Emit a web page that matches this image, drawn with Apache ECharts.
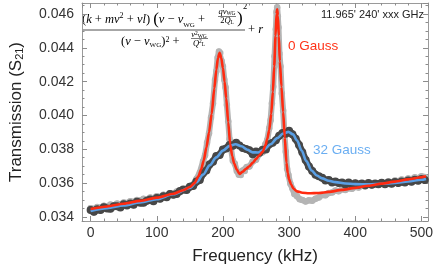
<!DOCTYPE html>
<html><head><meta charset="utf-8">
<script src="https://cdn.jsdelivr.net/npm/echarts@6/dist/echarts.min.js"></script>
<style>html,body{margin:0;padding:0;background:#fff}#c{width:436px;height:273px}</style>
</head><body><div id="c"></div>
<script>
// ---- tick labels ----
const xTickLabels = ['0', '100', '200', '300', '400', '500'];
const yTickLabels = ['0.034', '0.036', '0.038', '0.040', '0.042', '0.044', '0.046'];

// ---- 0 Gauss measured data (light gray) ----
const lightFreq = [0,5,10,15,20,25,30,35,40,45,50,55,60,65,70,75,80,85,90,95,100,105,110,115,120,125,130,135,140,145,150,155,160,165,170,173,176,179,182,185,188,190,192,194,196,198,200,202,204,206,208,210,212,215,218,221,224,227,230,233,236,240,245,250,255,260,264,267,270,272,274,276,278,280,281,282,283,284,285.5,287,289,291,293,295,297,299,302,305,308,312,316,320,325,330,335,340,345,350,355,360,365,370,375,380,385,390,395,400,405,410,415,420,425,430,435,440,445,450,455,460,465,470,475,480,485,490,495,500,505];
const lightVal = [0.03452,0.03447,0.03459,0.03454,0.03466,0.03461,0.03473,0.03468,0.03479,0.03475,0.03486,0.03482,0.03493,0.03489,0.03500,0.03497,0.03507,0.03503,0.03515,0.03511,0.03523,0.03518,0.03531,0.03527,0.03539,0.03535,0.03550,0.03546,0.03564,0.03566,0.03583,0.03592,0.03625,0.03662,0.03728,0.03765,0.03838,0.03895,0.03988,0.04072,0.04210,0.04262,0.04342,0.04378,0.04370,0.04322,0.04290,0.04212,0.04165,0.04062,0.03966,0.03860,0.03810,0.03732,0.03715,0.03672,0.03650,0.03648,0.03675,0.03672,0.03695,0.03698,0.03728,0.03738,0.03772,0.03782,0.03828,0.03855,0.03925,0.03972,0.04072,0.04170,0.04350,0.04510,0.04612,0.04640,0.04585,0.04520,0.04365,0.04290,0.04130,0.04030,0.03890,0.03785,0.03685,0.03648,0.03596,0.03568,0.03535,0.03522,0.03505,0.03500,0.03492,0.03498,0.03496,0.03508,0.03515,0.03530,0.03528,0.03541,0.03545,0.03556,0.03552,0.03563,0.03560,0.03570,0.03566,0.03578,0.03574,0.03585,0.03580,0.03591,0.03587,0.03598,0.03593,0.03604,0.03599,0.03610,0.03605,0.03616,0.03611,0.03622,0.03617,0.03628,0.03623,0.03634,0.03629,0.03640,0.03636];

// ---- 32 Gauss measured data (dark gray) ----
const darkFreq = [0,5,10,15,20,25,30,35,40,45,50,55,60,65,70,75,80,85,90,95,100,105,110,115,120,125,130,135,140,145,150,155,160,165,170,175,180,185,190,195,200,205,210,215,220,225,230,235,240,245,250,255,260,265,270,275,280,285,290,295,300,305,310,315,320,325,330,335,340,345,350,355,360,365,370,375,380,385,390,395,400,405,410,415,420,425,430,435,440,445,450,455,460,465,470,475,480,485,490,495,500,505];
const darkVal = [0.03441,0.03430,0.03445,0.03441,0.03457,0.03450,0.03448,0.03463,0.03463,0.03456,0.03475,0.03468,0.03479,0.03472,0.03490,0.03484,0.03484,0.03495,0.03503,0.03493,0.03512,0.03507,0.03522,0.03516,0.03535,0.03531,0.03536,0.03553,0.03562,0.03560,0.03579,0.03583,0.03609,0.03618,0.03658,0.03674,0.03711,0.03727,0.03760,0.03766,0.03799,0.03804,0.03826,0.03821,0.03838,0.03822,0.03807,0.03802,0.03795,0.03771,0.03787,0.03780,0.03798,0.03799,0.03830,0.03839,0.03854,0.03880,0.03896,0.03892,0.03909,0.03889,0.03862,0.03826,0.03782,0.03736,0.03698,0.03672,0.03650,0.03640,0.03632,0.03615,0.03618,0.03604,0.03610,0.03600,0.03604,0.03592,0.03603,0.03589,0.03599,0.03591,0.03598,0.03588,0.03600,0.03590,0.03598,0.03593,0.03602,0.03594,0.03603,0.03596,0.03607,0.03600,0.03609,0.03603,0.03615,0.03608,0.03620,0.03614,0.03624,0.03619];

// ---- 0 Gauss fit (red) ----
const redFreq = [0,25,50,75,100,125,140,150,157,163,167,171,175,179,183,187,190,192.5,195,197.5,200,202.5,205,208,211,214,217,221,225,230,235,240,245,250,255,260,264,267,270,273,275.5,277.5,279.5,281,282,283,284.5,286,288.5,291,293.5,296,298,300,303,307,312,320,330,345,360,380,400,420,440,460,480,500,507];
const redVal = [0.03447,0.03462,0.03478,0.03495,0.03514,0.03537,0.03558,0.03577,0.03600,0.03640,0.03680,0.03735,0.03810,0.03900,0.04010,0.04160,0.04270,0.04340,0.04371,0.04340,0.04280,0.04200,0.04100,0.03960,0.03830,0.03760,0.03715,0.03680,0.03654,0.03668,0.03685,0.03700,0.03720,0.03742,0.03765,0.03785,0.03820,0.03860,0.03914,0.04010,0.04140,0.04290,0.04470,0.04600,0.04628,0.04590,0.04470,0.04320,0.04170,0.04020,0.03870,0.03720,0.03660,0.03622,0.03592,0.03566,0.03551,0.03543,0.03540,0.03542,0.03548,0.03560,0.03572,0.03584,0.03597,0.03609,0.03622,0.03635,0.03640];

// ---- 32 Gauss fit (blue) ----
const blueFreq = [0,25,50,75,100,125,150,160,170,180,190,200,210,219,228,237,245,253,262,272,282,291,299,306,312,319,326,334,342,350,360,370,385,400,420,440,460,480,500,507];
const blueVal = [0.03435,0.03452,0.03468,0.03486,0.03505,0.03534,0.03572,0.03605,0.03650,0.03705,0.03752,0.03792,0.03820,0.03830,0.03818,0.03797,0.03782,0.03781,0.03798,0.03830,0.03866,0.03893,0.03903,0.03888,0.03852,0.03792,0.03730,0.03675,0.03645,0.03628,0.03614,0.03606,0.03598,0.03594,0.03593,0.03596,0.03601,0.03610,0.03620,0.03625];

const X_MIN = -13, X_MAX = 510, Y_MIN = 0.03376, Y_MAX = 0.04665;
const pairs = (f, v) => f.map((x, i) => [x, v[i]]);

const LINE_C = '#9a9a9a', TICK_C = '#8c8c8c', LABEL_C = '#333';
const SANS = '"Liberation Sans", Arial, Helvetica, sans-serif';
const SERIF = '"Liberation Serif", "Times New Roman", serif';

function mkAxis(dim, pos, major, withLine, extra) {
  const isX = dim === 'x';
  return Object.assign({
    type: 'value', position: pos,
    min: isX ? X_MIN : Y_MIN, max: isX ? X_MAX : Y_MAX,
    splitNumber: major ? (isX ? 5 : 6) : 26,
    axisLine: { show: withLine, onZero: false, lineStyle: { color: LINE_C, width: 1 } },
    axisTick: { show: true, inside: true, length: major ? 5 : 2.5, lineStyle: { color: TICK_C, width: 1 } },
    axisLabel: { show: false },
    splitLine: { show: false }
  }, extra || {});
}

const chart = echarts.init(document.getElementById('c'), null, { renderer: 'canvas' });

const rich = {
  i: { fontFamily: SERIF, fontStyle: 'italic', fontSize: 12.5, color: '#222' },
  p: { fontFamily: SERIF, fontSize: 12.5, color: '#222' },
  bp: { fontFamily: SERIF, fontSize: 17, color: '#222' },
  sup: { fontFamily: SERIF, fontSize: 8, color: '#222', verticalAlign: 'top', lineHeight: 8 },
  sub: { fontFamily: SERIF, fontSize: 7, color: '#222', verticalAlign: 'bottom', lineHeight: 7 },
  si: { fontFamily: SERIF, fontStyle: 'italic', fontSize: 8.5, color: '#222' },
  sp: { fontFamily: SERIF, fontSize: 8.5, color: '#222' },
  ssub: { fontFamily: SERIF, fontSize: 5.5, color: '#222', verticalAlign: 'bottom', lineHeight: 6 },
  ssup: { fontFamily: SERIF, fontSize: 5.5, color: '#222', verticalAlign: 'top', lineHeight: 6 }
};

chart.setOption({
  animation: false,
  backgroundColor: '#fff',
  grid: { left: 77, right: 7, top: 3, bottom: 52, containLabel: false },
  xAxis: [
    mkAxis('x', 'bottom', true, true, {
      axisLabel: {
        show: true, margin: 5, color: LABEL_C, fontSize: 14, fontFamily: SANS,
        showMinLabel: false, showMaxLabel: false,
        formatter: v => xTickLabels.includes(String(Math.round(v))) && Math.abs(v - Math.round(v)) < 1e-6 ? String(Math.round(v)) : ''
      },
      name: 'Frequency (kHz)', nameLocation: 'middle', nameGap: 27,
      nameTextStyle: { color: '#222', fontSize: 17, fontFamily: SANS }
    }),
    mkAxis('x', 'bottom', false, false),
    mkAxis('x', 'top', true, true),
    mkAxis('x', 'top', false, false)
  ],
  yAxis: [
    mkAxis('y', 'left', true, true, {
      axisLabel: {
        show: true, margin: 8, color: LABEL_C, fontSize: 14, fontFamily: SANS,
        showMinLabel: false, showMaxLabel: false,
        formatter: v => { const s = v.toFixed(3); return (yTickLabels.includes(s) && Math.abs(v - parseFloat(s)) < 1e-7) ? s : ''; }
      },
      name: 'Transmission (S{s|21})', nameLocation: 'middle', nameGap: 57,
      nameTextStyle: { color: '#222', fontSize: 17, fontFamily: SANS,
        rich: { s: { fontSize: 11, fontFamily: SANS, color: '#222', verticalAlign: 'bottom', lineHeight: 11 } } }
    }),
    mkAxis('y', 'left', false, false),
    mkAxis('y', 'right', true, true),
    mkAxis('y', 'right', false, false)
  ],
  series: [
    { name: '0 Gauss data', type: 'line', z: 1, data: pairs(lightFreq, lightVal), symbol: 'circle', symbolSize: 6.5,
      lineStyle: { width: 6, color: '#b4b4b4', join: 'round', cap: 'round' }, itemStyle: { color: '#b4b4b4' }, silent: true },
    { name: '32 Gauss data', type: 'line', z: 2, data: pairs(darkFreq, darkVal), symbol: 'circle', symbolSize: 8,
      lineStyle: { width: 7, color: '#474747', join: 'round', cap: 'round' }, itemStyle: { color: '#474747' }, silent: true },
    { name: '32 Gauss fit', type: 'line', z: 3, data: pairs(blueFreq, blueVal), showSymbol: false, smooth: 0.3, smoothMonotone: 'x',
      lineStyle: { width: 2.6, color: '#5a9fe4' }, silent: true },
    { name: '0 Gauss fit', type: 'line', z: 4, data: pairs(redFreq, redVal), showSymbol: false, smooth: 0.25, smoothMonotone: 'x',
      lineStyle: { width: 2.6, color: '#ff2a10' }, silent: true }
  ],
  graphic: [
    { type: 'text', x: 424, y: 15, style: { text: "11.965' 240' xxx GHz", align: 'right', verticalAlign: 'middle', fontSize: 11, fontFamily: SANS, fill: '#222' } },
    { type: 'text', x: 288, y: 46, style: { text: '0 Gauss', align: 'left', verticalAlign: 'middle', fontSize: 13.5, fontFamily: SANS, fill: '#ff3318' } },
    { type: 'text', x: 313, y: 150, style: { text: '32 Gauss', align: 'left', verticalAlign: 'middle', fontSize: 13.5, fontFamily: SANS, fill: '#6aaef2' } },
    // numerator
    { type: 'text', x: 82, y: 20, style: { text: '{p|(}{i|k}{p| + }{i|mν}{sup|2}{p| + }{i|νl}{p|) }{bp|(}{i|ν}{p| − }{i|ν}{sub|WG}{p| + }', verticalAlign: 'middle', rich: rich } },
    { type: 'text', x: 227, y: 12, style: { text: '{si|qν}{ssub|WG}', align: 'center', verticalAlign: 'middle', rich: rich } },
    { type: 'line', shape: { x1: 218, y1: 16.5, x2: 236, y2: 16.5 }, style: { stroke: '#222', lineWidth: 0.6 } },
    { type: 'text', x: 227, y: 21, style: { text: '{sp|2}{si|Q}{ssub|L}', align: 'center', verticalAlign: 'middle', rich: rich } },
    { type: 'text', x: 237, y: 19, style: { text: '{bp|)}', verticalAlign: 'middle', rich: rich } },
    { type: 'text', x: 243, y: 7, style: { text: '{sp|2}', verticalAlign: 'middle', rich: rich } },
    // fraction bar
    { type: 'line', shape: { x1: 83, y1: 30, x2: 245, y2: 30 }, style: { stroke: '#222', lineWidth: 0.8 } },
    { type: 'text', x: 248, y: 30, style: { text: '{p|+ }{i|r}', verticalAlign: 'middle', rich: rich } },
    // denominator
    { type: 'text', x: 121, y: 42, style: { text: '{p|(}{i|ν}{p| − }{i|ν}{sub|WG}{p|)}{sup|2}{p| + }', verticalAlign: 'middle', rich: rich } },
    { type: 'text', x: 199, y: 35, style: { text: '{si|ν}{ssup|2}{ssub|WG}', align: 'center', verticalAlign: 'middle', rich: rich } },
    { type: 'line', shape: { x1: 191, y1: 38.5, x2: 208, y2: 38.5 }, style: { stroke: '#222', lineWidth: 0.6 } },
    { type: 'text', x: 199, y: 43.5, style: { text: '{si|Q}{ssup|2}{ssub|L}', align: 'center', verticalAlign: 'middle', rich: rich } }
  ]
});
</script>
</body></html>
